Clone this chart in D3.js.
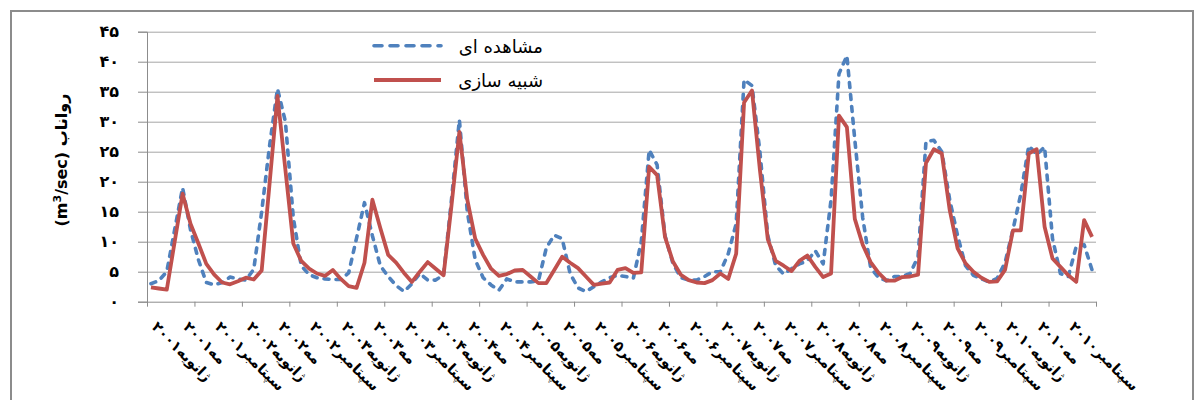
<!DOCTYPE html>
<html>
<head>
<meta charset="utf-8">
<script src="https://cdn.jsdelivr.net/npm/d3@7"></script>
<style>
  html, body { margin: 0; padding: 0; background: #fff; }
  svg { display: block; }
</style>
</head>
<body>
<div id="chart"></div>
<script>
// ---- data ----
const seriesNames = ["مشاهده ای", "شبیه سازی"];

// 120 monthly values, Jan 2001 .. Dec 2010
const observed = [
  3.0, 3.5, 5.0, 12.0, 19.0, 12.0, 7.0, 3.2, 2.8, 3.2, 4.1, 3.8,
  3.6, 5.4, 15.0, 26.0, 35.5, 30.0, 14.0, 6.0, 4.5, 4.0, 3.8, 3.7,
  3.7, 4.8, 10.6, 16.5, 11.0, 6.0, 4.2, 2.7, 1.7, 3.0, 4.7, 3.6,
  3.6, 4.5, 17.0, 30.3, 15.0, 7.0, 4.0, 2.8, 1.9, 3.8, 3.3, 3.3,
  3.3, 3.5, 9.0, 11.1, 10.5, 4.7, 2.3, 1.7, 2.5, 3.3, 4.0, 4.4,
  4.2, 3.9, 10.0, 25.3, 22.8, 11.0, 6.4, 4.0, 3.6, 3.6, 4.2, 5.0,
  5.0, 8.0, 13.0, 37.0, 36.0, 25.0, 11.0, 6.0, 4.6, 5.5, 6.3, 6.8,
  8.5, 6.3, 17.0, 38.0, 41.0, 27.0, 14.0, 5.7, 4.0, 3.5, 4.2, 4.2,
  4.7, 7.5, 26.7, 26.9, 25.0, 17.0, 11.0, 6.0, 4.4, 3.8, 3.3, 3.9,
  6.5, 12.0, 18.0, 26.0, 24.5, 25.8, 10.5, 4.7, 4.2, 9.2, 9.5, 5.3
];
const simulated = [
  2.4, 2.2, 2.0, 10.0, 18.0, 13.0, 9.7, 6.3, 4.5, 3.2, 2.9, 3.4,
  4.0, 3.7, 5.2, 19.7, 34.3, 22.0, 9.7, 6.8, 5.5, 4.7, 4.3, 5.3,
  3.8, 2.6, 2.3, 6.5, 17.0, 12.3, 7.8, 6.5, 4.8, 3.3, 5.0, 6.6,
  5.5, 4.4, 16.0, 28.3, 17.0, 10.5, 7.8, 5.5, 4.3, 4.6, 5.2, 5.3,
  4.2, 3.1, 3.1, 5.3, 7.5, 6.5, 5.6, 4.2, 2.8, 3.0, 3.2, 5.3,
  5.6, 4.8, 4.9, 22.5, 21.1, 10.8, 6.7, 4.5, 3.6, 3.2, 3.1, 3.6,
  4.7, 3.8, 8.0, 33.2, 35.2, 22.0, 10.4, 6.8, 6.0, 5.1, 6.8, 7.7,
  5.8, 4.1, 4.7, 31.0, 29.1, 13.8, 9.5, 6.6, 4.8, 3.5, 3.5, 4.1,
  4.2, 4.5, 23.1, 25.4, 24.7, 15.3, 8.9, 6.4, 5.0, 4.0, 3.3, 3.4,
  5.3, 11.9, 11.9, 24.7, 25.4, 12.5, 7.2, 5.8, 4.4, 3.3, 13.6, 10.8
];

// category labels shown every 4th month (Jan, May, Sep)
const xLabels = [
  "ژانویه۲۰۰۱", "مه۲۰۰۱", "سپتامبر۲۰۰۱",
  "ژانویه۲۰۰۲", "مه۲۰۰۲", "سپتامبر۲۰۰۲",
  "ژانویه۲۰۰۳", "مه۲۰۰۳", "سپتامبر۲۰۰۳",
  "ژانویه۲۰۰۴", "مه۲۰۰۴", "سپتامبر۲۰۰۴",
  "ژانویه۲۰۰۵", "مه۲۰۰۵", "سپتامبر۲۰۰۵",
  "ژانویه۲۰۰۶", "مه۲۰۰۶", "سپتامبر۲۰۰۶",
  "ژانویه۲۰۰۷", "مه۲۰۰۷", "سپتامبر۲۰۰۷",
  "ژانویه۲۰۰۸", "مه۲۰۰۸", "سپتامبر۲۰۰۸",
  "ژانویه۲۰۰۹", "مه۲۰۰۹", "سپتامبر۲۰۰۹",
  "ژانویه۲۰۱۰", "مه۲۰۱۰", "سپتامبر۲۰۱۰"
];

const yTicks = [0, 5, 10, 15, 20, 25, 30, 35, 40, 45];
const yTickLabels = ["۰", "۵", "۱۰", "۱۵", "۲۰", "۲۵", "۳۰", "۳۵", "۴۰", "۴۵"];
const yTitleArabic = "رواناب";

// ---- layout ----
const W = 1196, H = 400;
const plotL = 147, plotR = 1096, plotT = 31.7, plotB = 301.7;
const blue = "#4f81bd", red = "#c0504d", gridC = "#a6a6a6", axisC = "#8c8c8c";

const svg = d3.select("#chart").append("svg")
  .attr("width", W).attr("height", H)
  .style("font-family", "'DejaVu Sans', sans-serif");

svg.append("rect").attr("x", 0).attr("y", 0).attr("width", W).attr("height", H).attr("fill", "#fff");
svg.append("rect").attr("x", 11).attr("y", 11).attr("width", 1182).attr("height", 400)
  .attr("fill", "none").attr("stroke", axisC).attr("stroke-width", 2);

const n = observed.length;
const xb = d3.scaleBand().domain(d3.range(n)).range([plotL, plotR]).paddingInner(0).paddingOuter(0);
const bw = xb.bandwidth();
const xl = d3.scaleLinear().domain([0, n]).range([plotL, plotR]);
const y = d3.scaleLinear().domain([0, 45]).range([plotB, plotT]);

// gridlines
svg.append("g").selectAll("line").data(yTicks.filter(d => d > 0)).join("line")
  .attr("x1", plotL).attr("x2", plotR)
  .attr("y1", d => y(d) + 0.5).attr("y2", d => y(d) + 0.5)
  .attr("stroke", gridC).attr("stroke-width", 1);

// y axis
const yAxis = svg.append("g").attr("transform", `translate(${plotL},0)`)
  .call(d3.axisLeft(y).tickValues(yTicks).tickFormat((d, i) => yTickLabels[i]).tickSize(9).tickPadding(19));
yAxis.select(".domain").attr("stroke", axisC);
yAxis.selectAll(".tick line").attr("stroke", axisC);
yAxis.selectAll(".tick text").attr("font-size", 16).attr("font-weight", "bold")
  .attr("fill", "#000").attr("font-family", "'DejaVu Sans', sans-serif");

// x axis (tick marks every 6 months, at category boundaries)
const xAxis = svg.append("g").attr("transform", `translate(0,${plotB})`)
  .call(d3.axisBottom(xl).tickValues(d3.range(0, n + 1, 6)).tickSize(5).tickSizeOuter(0).tickFormat(""));
xAxis.select(".domain").attr("stroke", axisC);
xAxis.selectAll(".tick line").attr("stroke", axisC);

// x labels
svg.append("g").selectAll("text").data(xLabels).join("text")
  .attr("transform", (d, i) => `translate(${xb(i * 4) + bw / 2},${plotB + 26}) rotate(45)`)
  .attr("text-anchor", "start")
  .attr("font-size", 14.5).attr("font-weight", "bold").attr("fill", "#000")
  .text(d => d);

// y title
const yt = svg.append("text")
  .attr("transform", `translate(67,160) rotate(-90)`)
  .attr("text-anchor", "middle")
  .attr("font-size", 16).attr("font-weight", "bold").attr("fill", "#000");
yt.append("tspan").text("(m");
yt.append("tspan").attr("font-size", 11).attr("dy", -6).text("3");
yt.append("tspan").attr("dy", 6).text("/sec) " + yTitleArabic);

// lines
const line = d3.line().x((d, i) => xb(i) + bw / 2).y(d => y(d));
svg.append("path").datum(observed).attr("d", line)
  .attr("fill", "none").attr("stroke", blue).attr("stroke-width", 3.6)
  .attr("stroke-dasharray", "5,7").attr("stroke-linecap", "round").attr("stroke-linejoin", "round");
svg.append("path").datum(simulated).attr("d", line)
  .attr("fill", "none").attr("stroke", red).attr("stroke-width", 3.8)
  .attr("stroke-linejoin", "round");

// legend
const leg = svg.append("g");
const legY = [45.7, 80];
leg.append("line").attr("x1", 374).attr("x2", 441).attr("y1", legY[0]).attr("y2", legY[0])
  .attr("stroke", blue).attr("stroke-width", 3.6).attr("stroke-dasharray", "8,8").attr("stroke-linecap", "round");
leg.append("line").attr("x1", 374).attr("x2", 441).attr("y1", legY[1]).attr("y2", legY[1])
  .attr("stroke", red).attr("stroke-width", 3.8);
leg.selectAll("text").data(seriesNames).join("text")
  .attr("x", 543).attr("y", (d, i) => legY[i] + 7)
  .attr("text-anchor", "end").attr("font-size", 18).attr("fill", "#000")
  .text(d => d);
</script>
</body>
</html>
